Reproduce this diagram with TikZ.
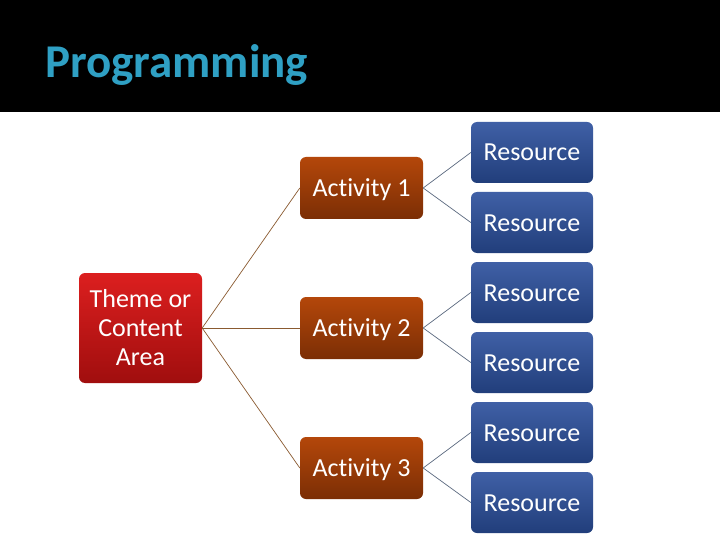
\documentclass[tikz,border=0pt]{standalone}
\usepackage{fontspec}
\setmainfont[Ligatures=NoCommon]{Carlito}
\definecolor{titleteal}{HTML}{2FA0C4}
\definecolor{redtop}{HTML}{DC1F1F}
\definecolor{redbot}{HTML}{A00E0E}
\definecolor{brtop}{HTML}{B4470A}
\definecolor{brbot}{HTML}{7B2E05}
\definecolor{bltop}{HTML}{4060A6}
\definecolor{blbot}{HTML}{213E7B}
\definecolor{linebr}{HTML}{8A5A30}
\definecolor{linebl}{HTML}{5C6A80}
\begin{document}
\begin{tikzpicture}[x=1pt,y=-1pt,
  box/.style={rectangle,rounded corners=6pt,text=white,align=center,inner sep=0pt,
    font=\fontsize{26}{29}\selectfont},
  themebox/.style={box,top color=redtop,bottom color=redbot,minimum width=123pt,minimum height=110pt},
  actbox/.style={box,top color=brtop,bottom color=brbot,minimum width=123pt,minimum height=62pt,
    text height=17.5pt,text depth=0pt},
  resbox/.style={box,top color=bltop,bottom color=blbot,minimum width=122pt,minimum height=61pt,
    text height=17pt,text depth=0pt},
  link1/.style={draw=linebr,line width=0.7pt},
  link2/.style={draw=linebl,line width=0.7pt}]
\useasboundingbox (0,0) rectangle (720,540);
\fill[black] (0,0) rectangle (720,540);
\fill[white] (0,112) rectangle (720,540);
\node[anchor=base west,inner sep=0pt,text=titleteal,font=\fontsize{47}{50}\selectfont\bfseries] (title) at (45,77.5) {Programming};
\node[themebox] (theme) at (140.5,328) {Theme or\\Content\\Area};
\node[actbox] (a1) at (361.5,188) {Activity 1};
\node[actbox] (a2) at (361.5,328) {Activity 2};
\node[actbox] (a3) at (361.5,468) {Activity 3};
\node[resbox] (r1) at (532,152.5) {Resource};
\node[resbox] (r2) at (532,222.5) {Resource};
\node[resbox] (r3) at (532,292.5) {Resource};
\node[resbox] (r4) at (532,362.5) {Resource};
\node[resbox] (r5) at (532,432.5) {Resource};
\node[resbox] (r6) at (532,502.5) {Resource};
\draw[link1] (theme.east) -- (a1.west);
\draw[link1] (theme.east) -- (a2.west);
\draw[link1] (theme.east) -- (a3.west);
\draw[link2] (a1.east) -- (r1.west);
\draw[link2] (a1.east) -- (r2.west);
\draw[link2] (a2.east) -- (r3.west);
\draw[link2] (a2.east) -- (r4.west);
\draw[link2] (a3.east) -- (r5.west);
\draw[link2] (a3.east) -- (r6.west);
\end{tikzpicture}
\end{document}
